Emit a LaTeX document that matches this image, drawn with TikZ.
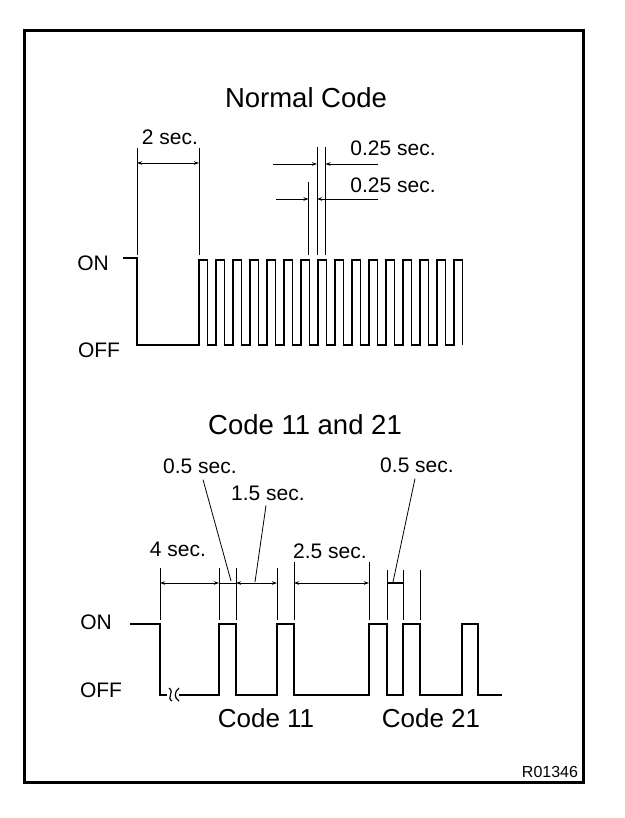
\documentclass[tikz,border=0pt]{standalone}
\usepackage{fontspec}
\setmainfont{Liberation Sans}
\usetikzlibrary{arrows.meta}
\tikzset{
	wave/.style = {line width = 1.9pt, line join = miter},
	guide/.style = {line width = .8pt},
	dim/.style = {line width = .9pt, {Stealth[length = 5pt, width = 3.5pt]}-{Stealth[length = 5pt, width = 3.5pt]}},
	onedim/.style = {line width = .9pt, -{Stealth[length = 5pt, width = 3.5pt]}},
	lbl/.style = {font = \fontsize{21}{21}\selectfont, inner sep = 0},
	ttl/.style = {font = \fontsize{27.5}{27.5}\selectfont, inner sep = 0}
}
\begin{document}
\begin{tikzpicture}[x = 1pt, y = -1pt]
	\useasboundingbox (0, 0) rectangle (624, 818);
	\draw [line width = 3pt] (24, 31) rectangle (583, 782);
	% normal code
	\node [ttl] (normal) at (306, 98) {Normal Code};
	\node [lbl] (onA) at (93, 263) {ON};
	\node [lbl] (offA) at (99, 350) {OFF};
	\draw [wave] (123, 258) -| (137, 345) -| (199, 260)
		foreach \k in {0, ..., 14}{ -- ++(8.5, 0) -- ++(0, 85) -- ++(8.5, 0) -- ++(0, -85)}
		-- ++(8.5, 0) -- ++(0, 85);
	\foreach \x/\y in {137/148, 199/148, 308.5/182, 317/147, 325.5/147}
		\draw [guide] (\x, \y) -- (\x, 255);
	\draw [dim] (137, 163) -- (199, 163);
	\node [lbl] (twosec) at (170, 137) {2 sec.};
	\draw [onedim] (273, 164) -- (317, 164);
	\draw [onedim] (378, 164) -- (325.5, 164);
	\draw [onedim] (276, 199) -- (308.5, 199);
	\draw [onedim] (378, 199) -- (317, 199);
	\node [lbl] (quarterA) at (393, 148) {0.25 sec.};
	\node [lbl] (quarterB) at (393, 185) {0.25 sec.};
	% code 11 and 21
	\node [ttl] (codes) at (305, 425) {Code 11 and 21};
	\node [lbl] (onB) at (96, 622) {ON};
	\node [lbl] (offB) at (101, 690) {OFF};
	\draw [wave] (130, 624) -| (160, 695) -| (219, 624) -| (236, 695) -| (277, 624) -| (294, 695)
		-| (369, 624) -| (387, 695) -| (403, 624) -| (420, 695) -| (462, 624) -| (478, 695) -- (502, 695);
	% break mark
	\fill [white] (167, 692) rectangle (179, 698);
	\draw [guide, line width = 1.2pt] (172, 701) .. controls (166, 698) and (175, 692) .. (169, 688);
	\draw [guide, line width = 1.2pt] (179, 701) .. controls (174, 698) and (174, 692) .. (179, 688);
	\foreach \x/\y in {160/568, 219/568, 236/568, 277/568, 294/562, 369/562, 387/570, 403/570, 420/570}
		\draw [guide] (\x, \y) -- (\x, 620);
	\draw [dim] (160, 583) -- (219, 583);
	\draw [guide] (219, 583) -- (236, 583);
	\draw [dim] (236, 583) -- (277, 583);
	\draw [dim] (294, 583) -- (369, 583);
	\draw [guide, line width = 2pt] (387, 583) -- (403, 583);
	\node [lbl] (fourSec) at (178, 549) {4 sec.};
	\node [lbl] (halfA) at (200, 466) {0.5 sec.};
	\node [lbl] (oneHalf) at (268, 493) {1.5 sec.};
	\node [lbl] (twoHalf) at (330, 551) {2.5 sec.};
	\node [lbl] (halfB) at (417, 465) {0.5 sec.};
	\draw [guide] (halfA.south) ++(3, 6) -- (231, 581);
	\draw [guide] (oneHalf.south) ++(-2, 5) -- (255, 582);
	\draw [guide] (halfB.south) ++(-2, 6) -- (393, 582);
	\node [ttl, font = \fontsize{26}{26}\selectfont] (codeA) at (266, 718) {Code 11};
	\node [ttl, font = \fontsize{26}{26}\selectfont] (codeB) at (431, 718) {Code 21};
	\node [inner sep = 0, font = \fontsize{16}{16}\selectfont] (ref) at (550, 772) {R01346};
\end{tikzpicture}
\end{document}
